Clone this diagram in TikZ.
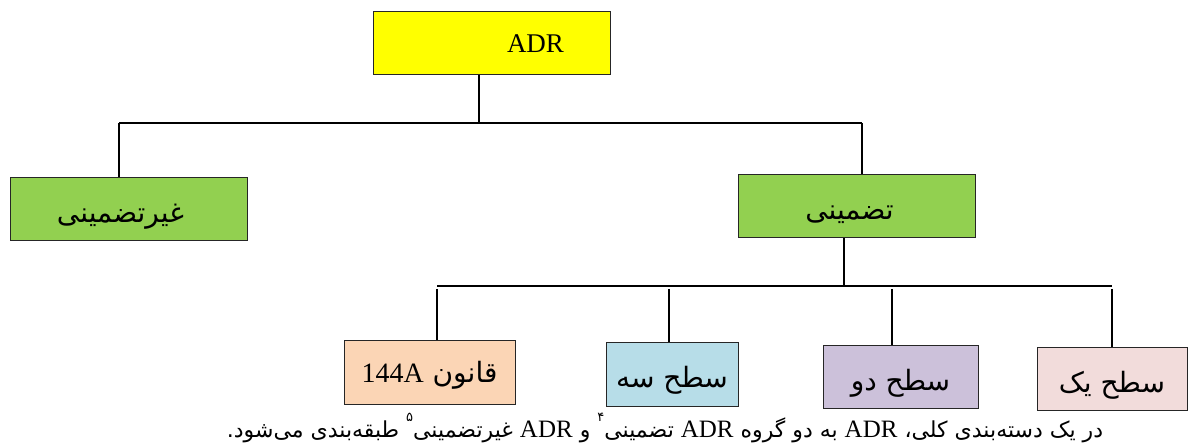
\documentclass[tikz,border=0pt]{standalone}
\usepackage{fontspec}
\setmainfont{Liberation Serif}
\newfontfamily\arabicfont[Script=Arabic]{DejaVu Sans}
\TeXXeTstate=1

\definecolor{adryellow}{HTML}{FFFF00}
\definecolor{groupgreen}{HTML}{92D050}
\definecolor{lawpeach}{HTML}{FBD5B5}
\definecolor{levelblue}{HTML}{B7DDE8}
\definecolor{levelpurple}{HTML}{CCC1DA}
\definecolor{levelpink}{HTML}{F2DCDB}

\newcommand{\fa}[1]{{\arabicfont\beginR #1\endR}}
\newcommand{\falow}[2][6pt]{\raisebox{-#1}[\height][\depth]{\fa{#2}}}
\newcommand{\lat}[1]{{\rmfamily\beginL #1\endL}}
\newcommand{\biglat}[1]{{\rmfamily\fontsize{25}{30}\selectfont\beginL #1\endL}}
\newcommand{\supnum}[1]{\raisebox{1.3ex}{\fontsize{13}{13}\selectfont #1}}

\begin{document}
\begin{tikzpicture}[x=1pt, y=-1pt,
    box/.style={draw=black!85, line width=1pt, inner sep=0pt, minimum height=63pt,
                font=\fontsize{28}{32}\selectfont},
    link/.style={line width=1.3pt},
    trunk/.style={line width=1.8pt}]
\useasboundingbox (0,0) rectangle (1191,443);

% boxes
\node[box, fill=adryellow, minimum width=237pt, font=\fontsize{27}{30}\selectfont] (adr) at (491.5,43.5) {\hspace*{88pt}ADR};
\node[box, fill=groupgreen, minimum width=237pt] (ghair) at (128.5,209) {\falow[8pt]{غیرتضمینی}\hspace*{16pt}};
\node[box, fill=groupgreen, minimum width=237pt] (tazmini) at (856.5,206.5) {\falow[8pt]{تضمینی}\hspace*{14pt}};
\node[box, fill=lawpeach, minimum width=171pt] (qanun) at (429.5,372.5) {\falow[3pt]{قانون \lat{144A}}};
\node[box, fill=levelblue, minimum width=132pt] (sathse) at (672,374.5) {\falow{سطح سه}};
\node[box, fill=levelpurple, minimum width=155pt, minimum height=62pt] (sathdo) at (900.5,377) {\falow{سطح دو}};
\node[box, fill=levelpink, minimum width=150pt, minimum height=62pt] (sathyek) at (1112,379) {\falow{سطح یک}};

% upper bar
\coordinate (adrjoin) at (479,123);
\coordinate (barleft) at (119,123);
\coordinate (barright) at (862,123);
\draw[trunk] (adr.south -| adrjoin) -- (adrjoin);
\draw[link] (barleft) -- (barright);
\draw[link] (barleft) -- (barleft |- ghair.north);
\draw[link] (barright) -- (barright |- tazmini.north);

% lower bar
\coordinate (tazjoin) at (844,286);
\coordinate (lowleft) at (437,286);
\coordinate (lowright) at (1112,286);
\draw[trunk] (tazmini.south -| tazjoin) -- (tazjoin);
\draw[link] (lowleft) -- (lowright);
\foreach \n/\x in {qanun/437, sathse/669, sathdo/892, sathyek/1112}{
  \coordinate (\n top) at (\x,289);
  \draw[link] (\n top) -- (\n top |- \n.north);
}

% caption
\node[font=\fontsize{22}{26}\selectfont, inner sep=0pt, anchor=base] (caption) at (665,437)
  {\fa{در یک دسته^^^^200cبندی کلی،  \biglat{ADR} به دو گروه \biglat{ADR} تضمینی\supnum{۴} و \biglat{ADR} غیرتضمینی\supnum{۵} طبقه^^^^200cبندی می^^^^200cشود.}};
\end{tikzpicture}
\end{document}
